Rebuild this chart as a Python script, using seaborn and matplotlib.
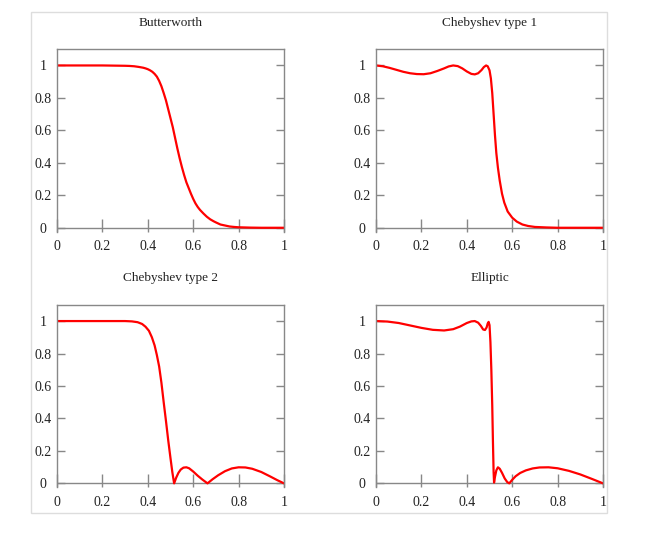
import matplotlib
matplotlib.use("Agg")
import matplotlib.pyplot as plt
import seaborn as sns
from matplotlib.patches import Rectangle

# values
butter_x = [0.0, 0.1, 0.2, 0.3, 0.32, 0.34, 0.36, 0.38, 0.39, 0.40, 0.41, 0.42, 0.43, 0.44,
            0.45, 0.46, 0.47, 0.48, 0.49, 0.50, 0.51, 0.52, 0.53, 0.54, 0.55, 0.56, 0.57, 0.58,
            0.59, 0.60, 0.61, 0.62, 0.63, 0.645, 0.66, 0.675, 0.69, 0.70, 0.72, 0.74, 0.76,
            0.78, 0.80, 0.85, 0.9, 1.0]
butter_y = [1.0, 1.0, 1.0, 0.998, 0.997, 0.995, 0.991, 0.986, 0.982, 0.977, 0.97, 0.961, 0.948,
            0.931, 0.905, 0.872, 0.83, 0.785, 0.73, 0.675, 0.62, 0.555, 0.49, 0.43, 0.375,
            0.325, 0.28, 0.245, 0.21, 0.178, 0.15, 0.128, 0.11, 0.088, 0.068, 0.052, 0.04,
            0.033, 0.02, 0.014, 0.008, 0.005, 0.003, 0.001, 0.0, 0.0]

cheb1_x = [0.0, 0.03, 0.06, 0.09, 0.12, 0.15, 0.18, 0.21, 0.24, 0.27, 0.30, 0.32, 0.34, 0.36,
           0.38, 0.40, 0.42, 0.435, 0.45, 0.465, 0.475, 0.485, 0.492, 0.50, 0.506, 0.512,
           0.518, 0.524, 0.53, 0.537, 0.545, 0.555, 0.565, 0.58, 0.60, 0.62, 0.645, 0.67,
           0.70, 0.75, 0.80, 1.0]
cheb1_y = [1.0, 0.995, 0.985, 0.973, 0.961, 0.952, 0.947, 0.946, 0.952, 0.966, 0.982, 0.994,
           1.0, 0.996, 0.982, 0.963, 0.948, 0.945, 0.952, 0.972, 0.99, 1.0, 0.995, 0.97, 0.92,
           0.83, 0.70, 0.57, 0.46, 0.37, 0.29, 0.21, 0.155, 0.10, 0.062, 0.038, 0.02, 0.011,
           0.005, 0.002, 0.0, 0.0]

cheb2_x = [0.0, 0.3, 0.33, 0.355, 0.375, 0.39, 0.405, 0.418, 0.43, 0.44, 0.45, 0.46, 0.47,
           0.48, 0.49, 0.50, 0.508, 0.516, 0.525, 0.535, 0.545, 0.557, 0.57, 0.582, 0.60,
           0.62, 0.64, 0.663, 0.685, 0.71, 0.74, 0.77, 0.80, 0.83, 0.86, 0.90, 0.94, 0.97, 1.0]
cheb2_y = [1.0, 1.0, 0.998, 0.993, 0.982, 0.965, 0.94, 0.90, 0.85, 0.79, 0.72, 0.62, 0.50,
           0.385, 0.265, 0.155, 0.07, 0.0, 0.035, 0.065, 0.085, 0.097, 0.099, 0.093, 0.073,
           0.047, 0.024, 0.0, 0.025, 0.05, 0.075, 0.092, 0.099, 0.098, 0.09, 0.07, 0.042,
           0.02, 0.0]

ellip_x = [0.0, 0.05, 0.1, 0.15, 0.2, 0.25, 0.3, 0.34, 0.37, 0.4, 0.42, 0.435, 0.45, 0.462,
           0.472, 0.48, 0.487, 0.492, 0.496, 0.50, 0.504, 0.508, 0.512, 0.515, 0.518, 0.52,
           0.524, 0.53, 0.537, 0.545, 0.555, 0.567, 0.578, 0.587, 0.60, 0.615, 0.635, 0.66,
           0.69, 0.72, 0.76, 0.80, 0.85, 0.90, 0.95, 1.0]
ellip_y = [1.0, 0.997, 0.988, 0.973, 0.958, 0.946, 0.942, 0.95, 0.966, 0.988, 0.998, 1.0,
           0.99, 0.97, 0.948, 0.945, 0.96, 0.985, 0.995, 0.975, 0.87, 0.70, 0.48, 0.26, 0.07,
           0.005, 0.04, 0.08, 0.099, 0.09, 0.065, 0.03, 0.008, 0.0, 0.022, 0.044, 0.064, 0.08,
           0.092, 0.098, 0.099, 0.093, 0.077, 0.055, 0.028, 0.0]

titles = ["Butterworth", "Chebyshev type 1", "Chebyshev type 2", "Elliptic"]
series = [(butter_x, butter_y), (cheb1_x, cheb1_y), (cheb2_x, cheb2_y), (ellip_x, ellip_y)]
xticks = [0, 0.2, 0.4, 0.6, 0.8, 1]
yticks = [0, 0.2, 0.4, 0.6, 0.8, 1]
tick_labels = ["0", "0.2", "0.4", "0.6", "0.8", "1"]

sns.set_style("white")
plt.rcParams["font.family"] = ["Liberation Serif", "DejaVu Serif"]

fig = plt.figure(figsize=(6.52, 5.38), dpi=100)
fig.patches.append(Rectangle((0.0475, 0.0459), 0.8834, 0.9312, transform=fig.transFigure,
                             fill=False, edgecolor="#dddddd", linewidth=1.0))

spine_col = "#888888"
lefts = [0.0874, 0.5767]
bottoms = [0.5691, 0.0940]
for i, (title, (xs, ys)) in enumerate(zip(titles, series)):
    ax = fig.add_axes([lefts[i % 2], bottoms[i // 2], 0.3482, 0.3394])
    sns.lineplot(x=xs, y=ys, ax=ax, color="red", linewidth=1.6, sort=False)
    ax.axhline(0, color=spine_col, linewidth=1.0, zorder=1)
    ax.set_xlim(0, 1)
    ax.set_ylim(-0.025, 1.1)
    ax.spines["bottom"].set_visible(False)
    for s in ["left", "right", "top"]:
        ax.spines[s].set_color(spine_col)
        ax.spines[s].set_linewidth(1.0)
    ax.set_xticks(xticks)
    ax.set_xticklabels(tick_labels)
    ax.set_yticks(yticks)
    ax.set_yticklabels(tick_labels)
    ax.tick_params(axis="x", direction="in", length=9.5, width=1.0, color=spine_col,
                   labelsize=10, labelcolor="#222222", pad=6, bottom=True)
    ax.tick_params(axis="y", direction="in", length=6, width=1.0, color=spine_col,
                   labelsize=10, labelcolor="#222222", pad=10, right=True, left=True)
    for lab in ax.get_yticklabels():
        lab.set_horizontalalignment("center")
    ax.set_title(title, fontsize=9.5, pad=17, color="#222222")

fig.savefig("out.png", dpi=100)
